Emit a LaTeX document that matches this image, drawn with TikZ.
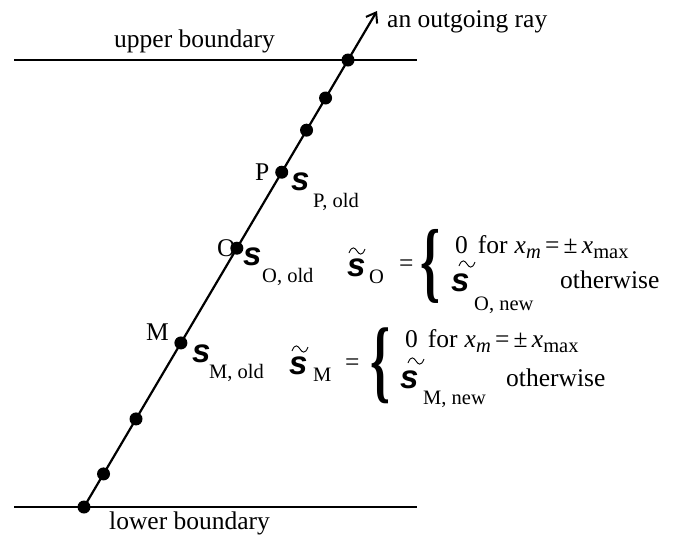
\documentclass[tikz,border=0pt]{standalone}
\usepackage{fontspec}
\setmainfont{Liberation Serif}
\setsansfont{Liberation Sans}
\usetikzlibrary{arrows.meta}
\newcommand\bsfs{\fontsize{33}{33}\selectfont\sffamily\bfseries\itshape}
\newcommand\subfs{\fontsize{20.5}{20.5}\selectfont}
\newcommand\mainfs{\fontsize{25.5}{25.5}\selectfont}
\newcommand\xsub[1]{\textit{x}\raisebox{-5pt}{\subfs #1}}
\begin{document}
\begin{tikzpicture}[x=1pt,y=-1pt,
  ray/.style={line width=2.2pt},
  bnd/.style={line width=2.2pt},
  dot/.style={circle,fill=black,inner sep=0pt,minimum size=13pt},
  txt/.style={inner sep=0pt,anchor=base west,font=\mainfs},
  sub/.style={inner sep=0pt,anchor=base west,font=\subfs},
  ess/.style={inner sep=0pt,anchor=base west,font=\bsfs},
  brc/.style={inner sep=0pt,font=\bfseries},
  tilde/.pic={\draw[line width=0.9pt] (-8,2) .. controls (-5,-6) and (-2,-3) .. (0,0) .. controls (2,3) and (5,6) .. (8,-2);}
]
\useasboundingbox (0,0) rectangle (689,542);
% boundaries
\coordinate (ub1) at (14,60); \coordinate (ub2) at (417,60);
\coordinate (lb1) at (14,507); \coordinate (lb2) at (417,507);
\draw[bnd] (ub1) -- (ub2);
\draw[bnd] (lb1) -- (lb2);
\node[txt] (ubl) at (114,47) {upper boundary};
\node[txt] (lbl) at (109,529) {lower boundary};
% ray
\coordinate (A) at (84,507);
\coordinate (B) at (348,60);
\coordinate (C) at (377,11);
\draw[ray,-{Straight Barb[length=9pt,width=13pt,line width=2pt]}] (A) -- (C);
\node[txt] (rayl) at (387,27) {an outgoing ray};
\path (A) -- (B)
  coordinate[pos=0.074] (d1)
  coordinate[pos=0.197] (d2)
  coordinate[pos=0.367] (dM)
  coordinate[pos=0.579] (dO)
  coordinate[pos=0.749] (dP)
  coordinate[pos=0.843] (d3)
  coordinate[pos=0.915] (d4);
\foreach \p in {A,d1,d2,dM,dO,dP,d3,d4,B}
  \node[dot] at (\p) {};
% point labels
\node[txt] (Pl) at (255,180) {P};
\node[ess] (Ps) at (291,190) {s};
\node[sub] (Pss) at (313,207) {P, old};
\node[txt] (Ol) at (217,256) {O};
\node[ess] (Os) at (243,265) {s};
\node[sub] (Oss) at (262,282) {O, old};
\node[txt] (Ml) at (146,340) {M};
\node[ess] (Ms) at (192,362) {s};
\node[sub] (Mss) at (209,378) {M, old};
% equation O
\node[ess] (eOs) at (347,276) {s};
\pic at (357,251) {tilde};
\node[sub] (eOsub) at (369,283) {O};
\node[txt] (eOeq) at (399,271) {=};
\node[brc] (eObr) at (431,266) {\resizebox*{20pt}{74pt}{\{}};
\node[txt] (eOr1) at (455,253) {0\hspace{10pt}for\hspace{7pt}\xsub{\textit{m}}\,=\,±\,\xsub{max}};
\node[ess] (eOr2s) at (451,291) {s};
\pic at (467,264) {tilde};
\node[sub] (eOr2sub) at (474,310) {O, new};
\node[txt] (eOr2o) at (560,288) {otherwise};
% equation M
\node[ess] (eMs) at (289,374) {s};
\pic at (300,349) {tilde};
\node[sub] (eMsub) at (313,381) {M};
\node[txt] (eMeq) at (345,370) {=};
\node[brc] (eMbr) at (381,366) {\resizebox*{20pt}{76pt}{\{}};
\node[txt] (eMr1) at (405,347) {0\hspace{10pt}for\hspace{7pt}\xsub{\textit{m}}\,=\,±\,\xsub{max}};
\node[ess] (eMr2s) at (400,388) {s};
\pic at (416,361) {tilde};
\node[sub] (eMr2sub) at (423,404) {M, new};
\node[txt] (eMr2o) at (506,386) {otherwise};
\end{tikzpicture}
\end{document}
